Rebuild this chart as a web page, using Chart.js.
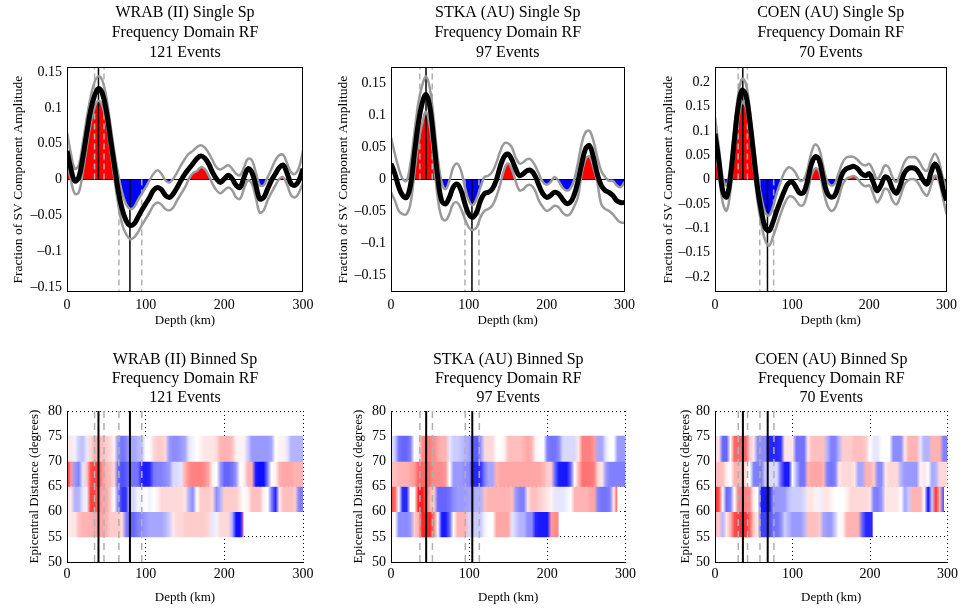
<!DOCTYPE html>
<html>
<head>
<meta charset="utf-8">
<script src="https://cdn.jsdelivr.net/npm/chart.js@4.4.1/dist/chart.umd.min.js"></script>
<style>
  body { margin: 0; background: #fff; }
  #fig { position: relative; width: 962px; height: 609px; }
  #fig canvas { position: absolute; }
</style>
</head>
<body>
<div id="fig"></div>
<script>
// depth grid shared by every trace and binned row
const depthKm = [0, 5, 10, 15, 20, 25, 30, 35, 40, 45, 50, 55, 60, 65, 70, 75, 80, 85, 90, 95, 100,
  105, 110, 115, 120, 125, 130, 135, 140, 145, 150, 155, 160, 165, 170, 175, 180, 185, 190, 195, 200,
  205, 210, 215, 220, 225, 230, 235, 240, 245, 250, 255, 260, 265, 270, 275, 280, 285, 290, 295, 300];
const depthTicks = [0, 100, 200, 300];
const distTicks = [50, 55, 60, 65, 70, 75, 80];
const binCentres = [57.5, 62.5, 67.5, 72.5];
const ampTicksNarrow = [-0.15, -0.1, -0.05, 0, 0.05, 0.1, 0.15];
const ampTicksWide = [-0.2, -0.15, -0.1, -0.05, 0, 0.05, 0.1, 0.15, 0.2];
const stations = ['WRAB (II)', 'STKA (AU)', 'COEN (AU)'];
const eventCounts = [121, 97, 70];
const ampLimits = [0.157, 0.176, 0.231];

// stacked single-station traces: mean and bounds
const wrabMean = [0.04, 0.015, -0.002, 0.003, 0.03, 0.064, 0.096, 0.117, 0.127, 0.12, 0.096, 0.059, 0.022, -0.015, -0.041, -0.057, -0.064, -0.062, -0.053, -0.043, -0.034, -0.025, -0.015, -0.011, -0.014, -0.022, -0.025, -0.02, -0.011, -0.001, 0.008, 0.015, 0.022, 0.029, 0.033, 0.03, 0.022, 0.01, 0.001, -0.004, 0.001, 0.006, 0.001, -0.008, -0.011, 0.003, 0.015, 0.01, -0.008, -0.027, -0.025, -0.013, -0.001, 0.008, 0.017, 0.02, 0.008, -0.006, -0.008, -0.001, 0.015];
const wrabUpper = [0.066, 0.036, 0.015, 0.02, 0.05, 0.085, 0.115, 0.136, 0.144, 0.138, 0.115, 0.078, 0.04, 0.008, -0.018, -0.034, -0.041, -0.039, -0.029, -0.02, -0.011, -0.001, 0.008, 0.013, 0.008, -0.001, -0.004, 0.001, 0.01, 0.02, 0.029, 0.036, 0.04, 0.045, 0.048, 0.045, 0.037, 0.027, 0.017, 0.014, 0.017, 0.02, 0.015, 0.008, 0.006, 0.017, 0.029, 0.027, 0.01, -0.008, -0.008, 0.003, 0.015, 0.027, 0.034, 0.034, 0.022, 0.01, 0.008, 0.017, 0.04];
const wrabLower = [0.024, -0.001, -0.02, -0.018, 0.01, 0.045, 0.078, 0.101, 0.11, 0.103, 0.08, 0.043, 0.003, -0.034, -0.062, -0.076, -0.083, -0.081, -0.074, -0.064, -0.055, -0.046, -0.036, -0.032, -0.035, -0.041, -0.043, -0.039, -0.029, -0.02, -0.011, 0.001, 0.009, 0.012, 0.017, 0.015, 0.006, -0.006, -0.015, -0.019, -0.015, -0.011, -0.015, -0.025, -0.027, -0.013, -0.001, -0.006, -0.025, -0.046, -0.043, -0.029, -0.018, -0.008, 0.001, 0.003, -0.008, -0.022, -0.025, -0.018, -0.004];

const stkaMean = [0.025, 0.009, -0.012, -0.025, -0.028, -0.009, 0.04, 0.087, 0.119, 0.133, 0.113, 0.061, 0.004, -0.033, -0.038, -0.028, -0.012, -0.007, -0.017, -0.038, -0.054, -0.059, -0.051, -0.033, -0.022, -0.02, -0.015, -0.002, 0.019, 0.035, 0.04, 0.032, 0.017, 0.006, 0.009, 0.014, 0.014, 0.006, -0.009, -0.022, -0.028, -0.025, -0.02, -0.022, -0.03, -0.037, -0.036, -0.025, -0.004, 0.025, 0.048, 0.053, 0.035, 0.009, -0.009, -0.017, -0.02, -0.025, -0.033, -0.036, -0.036];
const stkaUpper = [0.066, 0.04, 0.017, 0.001, -0.002, 0.025, 0.072, 0.119, 0.147, 0.161, 0.142, 0.093, 0.035, -0.004, -0.015, -0.002, 0.019, 0.025, 0.014, -0.012, -0.033, -0.04, -0.03, -0.012, 0.004, 0.006, 0.012, 0.025, 0.043, 0.056, 0.057, 0.051, 0.035, 0.025, 0.027, 0.032, 0.031, 0.022, 0.009, -0.004, -0.008, -0.004, 0.004, -0.002, -0.012, -0.017, -0.015, -0.002, 0.025, 0.056, 0.074, 0.076, 0.061, 0.035, 0.014, 0.004, -0.002, -0.002, -0.009, -0.012, -0.004];
const stkaLower = [-0.02, -0.033, -0.049, -0.054, -0.054, -0.038, 0.009, 0.056, 0.087, 0.106, 0.082, 0.03, -0.028, -0.059, -0.064, -0.054, -0.038, -0.036, -0.046, -0.062, -0.075, -0.079, -0.075, -0.059, -0.049, -0.046, -0.041, -0.028, -0.009, 0.014, 0.025, 0.017, -0.002, -0.017, -0.015, -0.009, -0.009, -0.017, -0.033, -0.043, -0.049, -0.046, -0.041, -0.043, -0.051, -0.056, -0.054, -0.043, -0.028, 0.009, 0.032, 0.036, 0.019, -0.004, -0.038, -0.046, -0.049, -0.054, -0.062, -0.067, -0.068];

const coenMean = [0.094, 0.039, -0.023, -0.036, 0.005, 0.08, 0.149, 0.183, 0.173, 0.121, 0.053, -0.016, -0.064, -0.098, -0.105, -0.088, -0.064, -0.043, -0.023, -0.008, -0.005, -0.016, -0.028, -0.026, -0.002, 0.032, 0.047, 0.04, 0.005, -0.026, -0.036, -0.033, -0.012, 0.012, 0.022, 0.025, 0.027, 0.022, 0.012, 0.008, 0.012, -0.005, -0.023, -0.012, 0.005, 0.001, -0.019, -0.028, -0.012, 0.012, 0.022, 0.024, 0.022, 0.012, -0.002, -0.009, 0.015, 0.032, 0.018, -0.016, -0.043];
const coenUpper = [0.128, 0.066, 0.005, -0.012, 0.032, 0.104, 0.173, 0.207, 0.197, 0.145, 0.077, 0.012, -0.036, -0.067, -0.074, -0.057, -0.029, -0.005, 0.015, 0.025, 0.022, 0.012, -0.002, 0, 0.022, 0.056, 0.072, 0.063, 0.029, -0.002, -0.012, -0.009, 0.012, 0.034, 0.045, 0.047, 0.046, 0.04, 0.032, 0.029, 0.032, 0.018, 0.001, 0.012, 0.029, 0.025, 0.005, -0.005, 0.012, 0.034, 0.045, 0.046, 0.045, 0.036, 0.022, 0.018, 0.039, 0.053, 0.039, 0.005, -0.016];
const coenLower = [0.066, 0.012, -0.047, -0.064, -0.023, 0.056, 0.121, 0.159, 0.149, 0.097, 0.025, -0.043, -0.091, -0.125, -0.136, -0.118, -0.095, -0.071, -0.05, -0.036, -0.035, -0.043, -0.053, -0.051, -0.026, 0.008, 0.023, 0.017, -0.019, -0.05, -0.064, -0.06, -0.04, -0.012, 0.001, 0.005, 0.007, 0.001, -0.009, -0.014, -0.012, -0.029, -0.047, -0.036, -0.019, -0.023, -0.043, -0.051, -0.036, -0.012, -0.002, 0.001, -0.001, -0.012, -0.026, -0.033, -0.012, 0.008, -0.002, -0.036, -0.071];

// picked depths: [lower bound, best, upper bound]
const wrabPosPick = [35, 40, 47];
const wrabNegPick = [66, 80, 95];
const stkaPosPick = [37, 45, 53];
const stkaNegPick = [95, 104, 113];
const coenPosPick = [30, 36, 42];
const coenNegPick = [58, 68, 76];

// binned stacks, normalised amplitude per 5 degree distance bin (sampled on depthKm)
const wrabBin55 = [0.05, 0.1, 0.1, 0.25, 0.3, 0.3, 0.3, 0.35, 0.35, 0.35, 0.3, 0.2, 0.2, 0.2, 0.15, -0.5, -0.6, -0.6, -0.5, -0.45, -0.4, -0.35, -0.35, -0.35, -0.35, -0.3, -0.2, 0.1, 0.15, 0.15, 0.2, 0.2, 0.2, 0.2, 0.2, 0.2, 0.15, -0.1, -0.05, 0.15, 0.15, 0.15, -0.3, -0.95, -0.95, 0.5];
const wrabBin60 = [0.1, 0.1, -0.3, -0.3, -0.1, -0.05, 0.75, 0.75, 0.5, 0.35, 0.35, 0.2, 0, -0.5, -0.8, -0.8, -0.2, -0.15, -0.05, -0.05, 0, -0.05, 0, 0.05, 0.15, 0.15, 0.15, 0.15, 0.15, 0.15, 0.1, -0.3, -0.45, 0, 0.2, 0.2, 0.2, 0.15, -0.45, -0.3, 0.2, 0.2, 0.2, 0.2, 0.1, 0, 0.05, 0.25, 0.25, 0.25, 0.05, 0, -0.5, -0.85, 0.1, 0.25, 0.25, 0.25, 0.2, -0.5, -0.5];
const wrabBin65 = [0.85, 0.4, -0.4, -0.5, -0.1, 0.2, 0.7, 0.75, 0.7, 0.4, 0.3, 0.25, 0.15, -0.6, -0.7, -0.65, -0.55, -0.55, -0.55, -0.85, -0.9, -0.85, -0.55, -0.5, -0.5, -0.45, -0.4, -0.15, -0.15, -0.1, 0.3, 0.45, 0.5, 0.5, 0.5, 0.45, 0.35, 0.05, 0, -0.4, -0.6, -0.6, -0.55, -0.4, 0, 0.05, 0.3, 0.3, -0.9, -0.95, -0.95, -0.5, 0, 0.05, 0.3, 0.35, 0.35, 0.35, 0.3, 0.3, 0.3];
const wrabBin70 = [0.1, 0.1, -0.05, -0.2, -0.25, -0.1, 0.15, 0.3, 0.3, 0.25, 0.2, 0.15, 0.05, -0.45, -0.55, -0.5, -0.35, -0.35, -0.3, -0.25, 0, 0, 0.15, 0.2, 0.2, 0.15, -0.4, -0.45, -0.45, -0.4, -0.35, -0.1, -0.05, 0, 0.05, 0.1, 0.1, 0.1, 0.15, 0.3, 0.3, 0.3, 0.25, 0.05, 0.05, 0.05, -0.2, -0.4, -0.4, -0.4, -0.4, -0.4, -0.35, 0, 0.05, 0.05, -0.1, -0.3, -0.3, -0.3, -0.3];
const wrabRowEnd = [224, 300, 300, 300];

const stkaBin55 = [0.1, 0, -0.45, -0.45, -0.45, -0.4, 0.2, 0.3, 0.85, 0.85, 0.85, 0.5, 0, -0.9, -0.9, -0.6, 0, 0.3, 0.3, 0.3, -0.15, -0.2, -0.2, -0.2, -0.05, 0, 0, 0.35, 0.35, 0.35, 0.35, -0.1, -0.2, -0.3, -0.3, -0.45, -0.45, -0.85, -0.9, -0.9, -0.9, 0.4, 0.45, 0.45];
const stkaBin60 = [0.7, 0.6, 0, -0.85, -0.85, 0, 0, 0.85, 0.9, 0.6, 0.3, 0.2, -0.6, -0.6, -0.6, -0.55, -0.45, -0.4, -0.4, -0.4, -0.35, -0.35, -0.3, -0.3, 0.25, 0.3, 0.3, 0.3, 0.3, 0.3, 0.3, 0.25, -0.4, -0.5, -0.5, 0.1, 0.25, 0.25, 0.2, 0.15, 0.1, 0.05, -0.1, -0.1, -0.1, -0.05, 0, 0.3, 0.3, 0.3, 0.3, 0.35, 0.35, -0.5, -0.55, -0.55, -0.5, 0.1, 0.7];
const stkaBin65 = [0.25, 0.25, 0.3, 0.3, 0.3, 0.35, 0.4, 0.6, 0.6, 0.6, 0.55, 0.45, 0.45, 0.45, 0.4, 0, -0.4, -0.4, -0.4, -0.45, -0.45, -0.85, -0.85, -0.8, -0.5, -0.35, -0.35, 0.3, 0.35, 0.35, 0.35, 0.35, 0.35, 0.35, 0.35, 0.35, 0.35, 0.35, 0.35, 0.3, 0.2, 0.2, -0.6, -0.9, -0.9, -0.9, -0.6, 0, 0.3, 0.55, 0.55, 0.55, 0.5, 0.15, 0.1, -0.4, -0.5, -0.5, -0.5, -0.5, -0.5];
const stkaBin70 = [-0.1, -0.2, -0.55, -0.6, -0.6, -0.5, 0, 0.05, 0.45, 0.5, 0.5, 0.45, 0.35, 0.3, 0.3, -0.1, -0.2, -0.2, -0.25, -0.3, -0.35, -0.6, -0.65, -0.4, 0.15, 0.15, 0.15, 0, 0, 0.05, 0.25, 0.25, 0.25, 0.25, 0.3, 0.35, 0.3, 0.05, 0, 0, -0.5, -0.55, -0.55, -0.45, -0.15, -0.15, -0.15, -0.15, 0.1, 0.5, 0.5, 0.5, 0.4, -0.35, -0.35, -0.1, 0, 0, -0.4, -0.4, -0.4];
const stkaRowEnd = [214, 289, 300, 300];

const coenBin55 = [0.3, 0.2, -0.3, 0.1, 0.3, 0.7, 0.75, 0.8, 0.8, 0.6, 0.2, 0.1, -0.75, -0.75, -0.7, -0.55, -0.55, -0.45, -0.2, -0.3, -0.4, -0.4, -0.4, -0.3, 0.25, 0.25, 0.25, 0.2, -0.35, -0.4, -0.4, -0.2, 0, 0.05, 0.3, 0.3, 0.3, 0.3, -0.6, -0.85, -0.85, -0.85];
const coenBin60 = [0.85, 0.7, 0, -0.6, -0.5, 0, 0.5, 0.5, 0.5, 0.45, 0.05, 0, -0.9, -0.9, -0.9, -0.45, -0.4, -0.4, -0.4, -0.25, -0.2, -0.2, -0.2, -0.15, 0.1, 0.1, 0.05, -0.05, 0.1, 0.1, 0.05, 0, 0, 0, 0.05, 0.15, 0.15, 0.15, 0.15, 0.15, 0.1, -0.5, -0.5, -0.4, 0.1, 0.1, 0.1, 0.1, 0, -0.35, -0.2, 0.3, 0.3, 0.3, 0, -0.95, -0.2, 0.8, 0.3, -0.7];
const coenBin65 = [0.25, 0.25, 0.25, 0.05, 0, 0.3, 0.3, 0.3, 0.1, 0, -0.5, -0.5, -0.5, -0.2, -0.15, -0.15, -0.15, -0.6, -0.9, -0.9, 0, -0.3, -0.55, -0.55, 0.3, 0.35, 0.35, 0.35, 0.3, -0.5, -0.55, -0.5, 0.1, 0.15, 0.15, 0.15, 0.1, -0.35, -0.35, 0.3, 0.3, 0.2, -0.45, -0.45, 0.1, 0.15, 0.15, 0.15, -0.3, -0.4, -0.4, -0.4, -0.4, 0.05, 0.1, 0, -0.35, -0.3, 0.15, 0.15, 0.15];
const coenBin70 = [0.15, 0.1, -0.6, -0.6, 0, 0.6, 0.6, 0.6, 0.6, 0.2, 0.1, -0.45, -0.45, -0.45, -0.85, -0.85, -0.85, -0.8, 0.1, 0.1, 0.1, -0.55, -0.55, -0.55, 0.1, 0.25, 0.25, 0.25, 0.25, -0.3, -0.5, -0.5, -0.3, 0.2, 0.2, 0.2, 0.25, 0.25, 0.25, 0.2, 0, -0.1, -0.1, 0, 0, 0, -0.45, -0.45, -0.45, 0.1, 0.3, 0.3, 0.3, -0.1, -0.3, -0.3, 0.3, 0.3, 0.3, -0.5, -0.5];
const coenRowEnd = [203, 295, 300, 300];

const SERIF = "'Liberation Serif', 'Times New Roman', serif";
Chart.defaults.font.family = SERIF;
Chart.defaults.color = '#000';
Chart.defaults.animation = false;

// per-column placement of the canvases
const panelLayout = [
  { left: 0, width: 320, axisW: 67, padRight: 17, tracePad: 10, binPad: 27 },
  { left: 320, width: 320, axisW: 71, padRight: 13, tracePad: 15, binPad: 31 },
  { left: 640, width: 322, axisW: 75, padRight: 11, tracePad: 20, binPad: 38 }
];

function addCanvas(left, top, w, h) {
  const c = document.createElement('canvas');
  c.width = w; c.height = h;
  c.style.left = left + 'px'; c.style.top = top + 'px';
  document.getElementById('fig').appendChild(c);
  return c;
}

const signed = v => (v < 0 ? '\u2013' + Math.abs(v) : String(v));
const fixedTicks = list => ax => { ax.ticks = list.map(value => ({ value })); };

const boxFrame = {
  id: 'boxFrame',
  afterDatasetsDraw(chart) {
    const { ctx, chartArea: a } = chart;
    ctx.save();
    ctx.strokeStyle = '#000';
    ctx.lineWidth = 1;
    ctx.strokeRect(Math.round(a.left) + 0.5, Math.round(a.top) + 0.5,
      Math.round(a.right - a.left) - 1, Math.round(a.bottom - a.top) - 1);
    ctx.restore();
  }
};

function pickLine(x, y0, y1, best, heavy) {
  return {
    type: 'line',
    data: [{ x, y: y0 }, { x, y: y1 }],
    borderColor: best ? '#000' : '#b0b0b0',
    borderWidth: best ? (heavy ? 2 : 1.5) : 1.5,
    borderDash: best ? [] : [6, 4],
    tension: 0,
    clip: 0,
    order: best ? 3 : 4
  };
}

function titleLines(i, kind) {
  return [stations[i] + ' ' + kind + ' Sp', 'Frequency Domain RF', eventCounts[i] + ' Events'];
}

function traceChart(i, mean, upper, lower, posPick, negPick, ampTicks) {
  const lay = panelLayout[i];
  const lim = ampLimits[i];
  const pts = ys => depthKm.map((x, k) => ({ x, y: ys[k] }));
  const picks = [];
  posPick.forEach((d, k) => picks.push(pickLine(d, 0, lim, k === 1, false)));
  negPick.forEach((d, k) => picks.push(pickLine(d, 0, -lim, k === 1, false)));
  const xEnds = [depthKm[0], depthKm[depthKm.length - 1]];

  new Chart(addCanvas(lay.left, 0, lay.width, 330), {
    type: 'line',
    data: {
      datasets: [
        { data: pts(lower), borderWidth: 0, borderColor: 'rgba(0,0,0,0)',
          fill: { target: 'origin', above: '#ff0000', below: 'rgba(0,0,0,0)' }, order: 6 },
        { data: pts(upper), borderWidth: 0, borderColor: 'rgba(0,0,0,0)',
          fill: { target: 'origin', above: 'rgba(0,0,0,0)', below: '#0000ff' }, order: 6 },
        { data: xEnds.map(x => ({ x, y: 0 })), borderColor: '#000', borderWidth: 1, tension: 0, order: 5 },
        ...picks,
        { data: pts(upper), borderColor: '#9a9a9a', borderWidth: 2.5, order: 2 },
        { data: pts(lower), borderColor: '#9a9a9a', borderWidth: 2.5, order: 2 },
        { data: pts(mean), borderColor: '#000', borderWidth: 5, order: 1 }
      ]
    },
    options: {
      responsive: false,
      layout: { padding: { right: lay.padRight } },
      elements: { point: { radius: 0 }, line: { tension: 0.4 } },
      datasets: { line: { clip: 0 } },
      plugins: {
        legend: { display: false },
        tooltip: { enabled: false },
        title: {
          display: true, fullSize: false, text: titleLines(i, 'Single'),
          font: { size: 16, weight: 'normal', lineHeight: 1.22 },
          padding: { top: 3.5, bottom: 5 }
        }
      },
      scales: {
        x: {
          type: 'linear', min: 0, max: 300,
          afterBuildTicks: fixedTicks(depthTicks),
          afterFit: ax => { ax.height = 38; },
          grid: { display: false, drawTicks: false },
          border: { display: false },
          ticks: { font: { size: 14 }, padding: 5, maxRotation: 0 },
          title: { display: true, text: 'Depth (km)', font: { size: 13 }, padding: { top: 0, bottom: 1.5 } }
        },
        y: {
          type: 'linear', min: -lim, max: lim,
          afterBuildTicks: fixedTicks(ampTicks),
          afterFit: ax => { ax.width = lay.axisW; },
          grid: { display: false, drawTicks: false },
          border: { display: false },
          ticks: { font: { size: 14 }, padding: 5, callback: signed },
          title: { display: true, text: 'Fraction of SV Component Amplitude', font: { size: 13.5 },
            padding: { top: lay.tracePad, bottom: 0 } }
        }
      }
    },
    plugins: [boxFrame]
  });
}

// blue-white-red colour for a normalised amplitude
function bwr(v) {
  const t = Math.round(255 * (1 - Math.min(1, Math.abs(v))));
  return v >= 0 ? `rgb(255,${t},${t})` : `rgb(${t},${t},255)`;
}

function rowFill(chart, row) {
  const x = chart.scales.x;
  if (!x || !chart.chartArea) return 'rgba(0,0,0,0)';
  const x0 = x.getPixelForValue(depthKm[0]);
  const x1 = x.getPixelForValue(depthKm[depthKm.length - 1]);
  const g = chart.ctx.createLinearGradient(x0, 0, x1, 0);
  row.forEach((v, k) => g.addColorStop((x.getPixelForValue(depthKm[k]) - x0) / (x1 - x0), bwr(v)));
  return g;
}

function binnedChart(i, rows, rowEnds, posPick, negPick) {
  const lay = panelLayout[i];
  const yLo = distTicks[0], yHi = distTicks[distTicks.length - 1];
  const picks = [];
  [...posPick, ...negPick].forEach((d, k) => {
    const p = pickLine(d, yLo, yHi, k % 3 === 1, true);
    p.order = k % 3 === 1 ? 1 : 2;
    p.borderDash = k % 3 === 1 ? [] : [7, 5];
    picks.push(p);
  });

  new Chart(addCanvas(lay.left, 330, lay.width, 279), {
    type: 'bar',
    data: {
      datasets: [
        {
          indexAxis: 'y',
          data: binCentres.map((y, r) => ({ y, x: [depthKm[0], rowEnds[r]] })),
          backgroundColor: ctx => (ctx.type === 'data' ? rowFill(ctx.chart, rows[ctx.dataIndex]) : 'rgba(0,0,0,0)'),
          borderWidth: 0,
          barPercentage: 1,
          categoryPercentage: 1,
          order: 3
        },
        ...picks
      ]
    },
    options: {
      responsive: false,
      layout: { padding: { right: lay.padRight } },
      elements: { point: { radius: 0 } },
      plugins: {
        legend: { display: false },
        tooltip: { enabled: false },
        title: {
          display: true, fullSize: false, text: titleLines(i, 'Binned'),
          font: { size: 16, weight: 'normal', lineHeight: 1.2 },
          padding: { top: 19.7, bottom: 3.7 }
        }
      },
      scales: {
        x: {
          type: 'linear', min: 0, max: 300, offset: false,
          afterBuildTicks: fixedTicks(depthTicks),
          afterFit: ax => { ax.height = 47; },
          grid: { color: '#000', lineWidth: 1, drawTicks: false, offset: false },
          border: { display: true, color: '#000', width: 1, dash: [1, 3], z: 1 },
          ticks: { font: { size: 14 }, padding: 4, maxRotation: 0 },
          title: { display: true, text: 'Depth (km)', font: { size: 13 }, padding: { top: 0, bottom: 3.5 } }
        },
        y: {
          type: 'linear', min: yLo, max: yHi, offset: false,
          afterBuildTicks: fixedTicks(distTicks),
          afterFit: ax => { ax.width = lay.axisW; },
          grid: { color: '#000', lineWidth: 1, drawTicks: false, offset: false },
          border: { display: true, color: '#000', width: 1, dash: [1, 3], z: 1 },
          ticks: { font: { size: 14 }, padding: 5 },
          title: { display: true, text: 'Epicentral Distance (degrees)', font: { size: 13 },
            padding: { top: lay.binPad, bottom: 0 } }
        }
      }
    }
  });
}

traceChart(0, wrabMean, wrabUpper, wrabLower, wrabPosPick, wrabNegPick, ampTicksNarrow);
traceChart(1, stkaMean, stkaUpper, stkaLower, stkaPosPick, stkaNegPick, ampTicksNarrow);
traceChart(2, coenMean, coenUpper, coenLower, coenPosPick, coenNegPick, ampTicksWide);

binnedChart(0, [wrabBin55, wrabBin60, wrabBin65, wrabBin70], wrabRowEnd, wrabPosPick, wrabNegPick);
binnedChart(1, [stkaBin55, stkaBin60, stkaBin65, stkaBin70], stkaRowEnd, stkaPosPick, stkaNegPick);
binnedChart(2, [coenBin55, coenBin60, coenBin65, coenBin70], coenRowEnd, coenPosPick, coenNegPick);
</script>
</body>
</html>
